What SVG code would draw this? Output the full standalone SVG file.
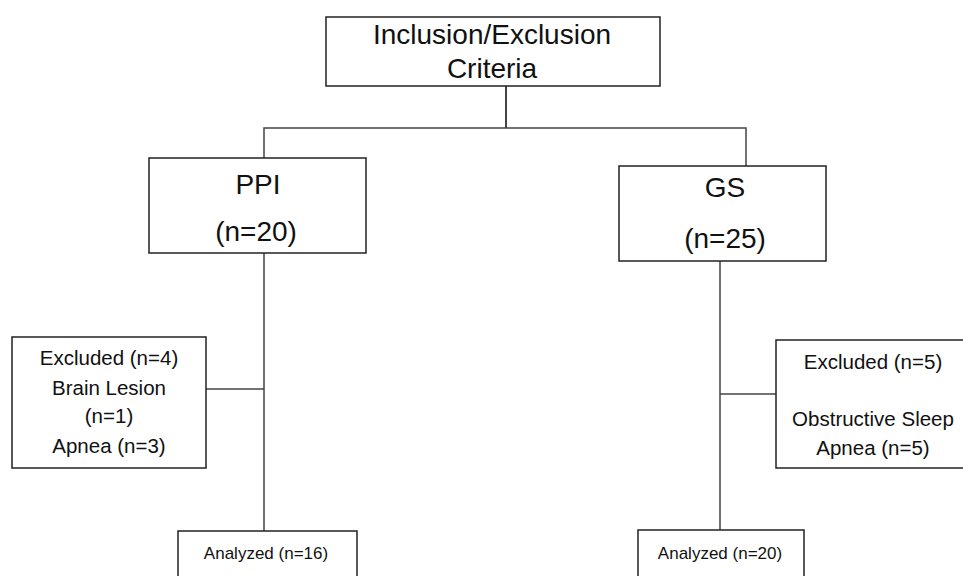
<svg xmlns="http://www.w3.org/2000/svg" width="963" height="576" viewBox="0 0 963 576">
<style>
.box{fill:#fff;stroke:#222;stroke-width:1.5}
.t{font-family:"Liberation Sans",Arial,sans-serif;fill:#111;text-anchor:middle}
.big{font-size:28px}
.mid{font-size:20.5px}
.sm{font-size:17px}
.c{stroke:#444;stroke-width:1.5;fill:none}
</style>
<rect width="963" height="576" fill="#fff"/>
<g id="connectors">
<line class="c" x1="506" y1="86" x2="506" y2="128" style="stroke-width:2"/>
<polyline class="c" points="264,158 264,128 746,128 746,166"/>
<line class="c" x1="264" y1="253" x2="264" y2="531"/>
<line class="c" x1="206" y1="389" x2="264" y2="389"/>
<line class="c" x1="720" y1="261" x2="720" y2="531"/>
<line class="c" x1="720" y1="394" x2="776" y2="394"/>
</g>
<g id="criteria">
<rect class="box" x="326" y="17" width="334" height="69"/>
<text class="t big" x="492" y="44">Inclusion/Exclusion</text>
<text class="t big" x="492" y="78">Criteria</text>
</g>
<g id="ppi">
<rect class="box" x="149" y="158" width="217" height="95"/>
<text class="t big" x="258" y="194">PPI</text>
<text class="t big" x="256" y="241">(n=20)</text>
</g>
<g id="gs">
<rect class="box" x="619" y="166" width="207" height="95"/>
<text class="t big" x="725" y="197">GS</text>
<text class="t big" x="725" y="248">(n=25)</text>
</g>
<g id="excluded-ppi">
<rect class="box" x="12" y="337" width="194" height="131"/>
<text class="t mid" x="109" y="365">Excluded (n=4)</text>
<text class="t mid" x="109" y="395">Brain Lesion</text>
<text class="t mid" x="109" y="423">(n=1)</text>
<text class="t mid" x="109" y="453">Apnea (n=3)</text>
</g>
<g id="excluded-gs">
<rect class="box" x="776" y="340" width="190" height="128"/>
<text class="t mid" x="873" y="369">Excluded (n=5)</text>
<text class="t mid" x="873" y="426">Obstructive Sleep</text>
<text class="t mid" x="873" y="455">Apnea (n=5)</text>
</g>
<g id="analyzed-ppi">
<rect class="box" x="178" y="531" width="179" height="50"/>
<text class="t sm" x="266" y="559">Analyzed (n=16)</text>
</g>
<g id="analyzed-gs">
<rect class="box" x="638" y="530" width="166" height="50"/>
<text class="t sm" x="720" y="559">Analyzed (n=20)</text>
</g>
</svg>
